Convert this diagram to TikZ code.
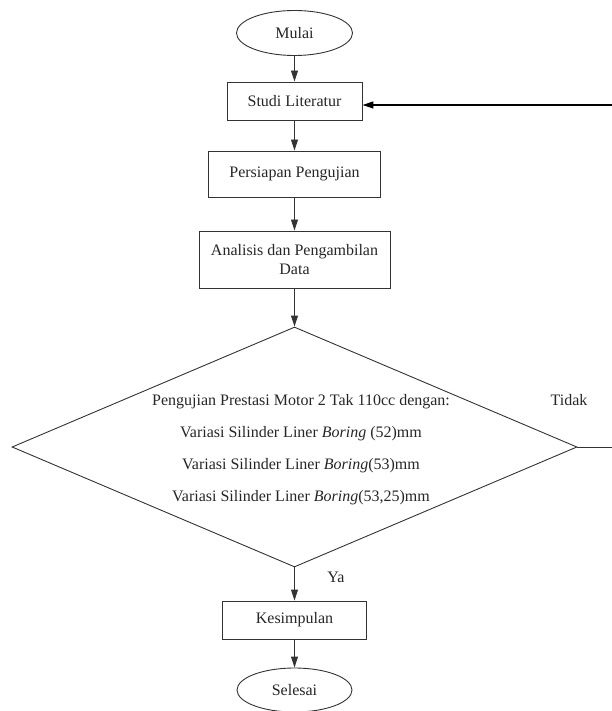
\documentclass[tikz,border=0pt]{standalone}
\usepackage{fontspec}
\setmainfont{Liberation Serif}
\usetikzlibrary{shapes.geometric,arrows.meta}
\begin{document}
\begin{tikzpicture}[x=1pt,y=-1pt,
  every node/.style={font=\fontsize{16}{18.5}\selectfont, text=black!85},
  line/.style={draw=black!80, line width=0.9pt},
  arrow/.style={line, -{Triangle[length=11pt,width=7pt]}},
  terminal/.style={ellipse, line, inner sep=0pt, minimum width=116pt, minimum height=45pt},
  process/.style={rectangle, line, inner sep=0pt, align=center},
  decision/.style={diamond, line, inner sep=0pt, aspect=2.35, minimum width=565pt, minimum height=240pt},
  lbl/.style={inner sep=0pt}
]
\useasboundingbox (0,0) rectangle (612,711);
\node[terminal] (mulai) at (294.5,33) {Mulai};
\node[process, minimum width=135pt, minimum height=38pt] (studi) at (294.5,101) {Studi Literatur};
\node[process, minimum width=172pt, minimum height=46pt] (persiapan) at (294.5,174) {Persiapan Pengujian};
\node[process, minimum width=191pt, minimum height=57pt] (analisis) at (294.5,259.5) {Analisis dan Pengambilan\\Data};
\node[decision] (dec) at (294.5,447) {};
\node[lbl, align=center, font=\fontsize{16}{32}\selectfont] (dectext) at (301,450) {Pengujian Prestasi Motor 2 Tak 110cc dengan:\\
Variasi Silinder Liner \textit{Boring} (52)mm\\
Variasi Silinder Liner \textit{Boring}(53)mm\\
Variasi Silinder Liner \textit{Boring}(53,25)mm};
\node[process, minimum width=144pt, minimum height=38pt] (kesimpulan) at (294.5,620) {Kesimpulan};
\node[terminal, minimum width=115pt, minimum height=44pt] (selesai) at (294.5,690) {Selesai};
\node[lbl] (tidak) at (569,400) {Tidak};
\node[lbl] (ya) at (336,577) {Ya};
\coordinate (fb) at (620,447);
\draw[arrow] (mulai) -- (studi);
\draw[arrow] (studi) -- (persiapan);
\draw[arrow] (persiapan) -- (analisis);
\draw[arrow] (analisis) -- (dec.north);
\draw[arrow] (dec.south) -- (kesimpulan);
\draw[arrow] (kesimpulan) -- (selesai);
\draw[line] (dec.east) -- (fb);
\draw[arrow, draw=black, line width=1.1pt] (fb) |- ([yshift=-4pt]studi.east);
\end{tikzpicture}
\end{document}
